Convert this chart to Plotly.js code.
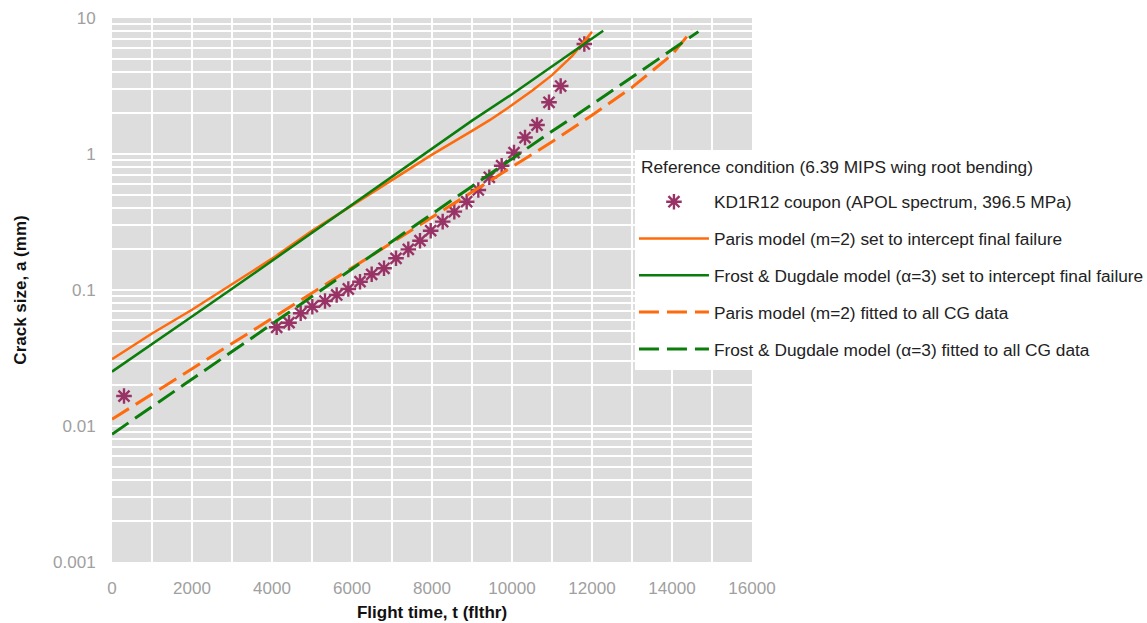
<!DOCTYPE html>
<html>
<head>
<meta charset="utf-8">
<script src="https://cdn.plot.ly/plotly-3.0.1.min.js"></script>
<style>html,body{margin:0;padding:0;background:#fff;}#chart{width:1147px;height:623px;}</style>
</head>
<body>
<div id="chart"></div>
<script>
// Coupon test data (flight hours, crack size mm)
const couponT = [300, 4117, 4425, 4717, 5008, 5325, 5617, 5908, 6200, 6492, 6800, 7100, 7408, 7700, 7967, 8267, 8558, 8867, 9158, 9433, 9742, 10050, 10325, 10625, 10925, 11217, 11808];
const couponA = [0.0166, 0.0532, 0.0575, 0.0674, 0.0754, 0.0830, 0.0919, 0.1017, 0.1151, 0.1304, 0.1444, 0.1710, 0.1991, 0.2305, 0.2730, 0.318, 0.377, 0.446, 0.544, 0.674, 0.820, 1.023, 1.322, 1.634, 2.40, 3.16, 6.44];

// Paris model (m=2) set to intercept final failure
const parisFinalT = [0, 1000, 2000, 3000, 4000, 5000, 6000, 7000, 8000, 9000, 9450, 10000, 10500, 11000, 11500, 12000];
const parisFinalA = [0.031, 0.0479, 0.0715, 0.111, 0.170, 0.272, 0.42, 0.645, 0.99, 1.48, 1.78, 2.29, 2.92, 3.8, 5.25, 7.9];

// Frost & Dugdale model (alpha=3) set to intercept final failure
const fdFinalT = [0, 1000, 2000, 3000, 4000, 5000, 6000, 7000, 8000, 9000, 10000, 11000, 12000, 12280];
const fdFinalA = [0.0251, 0.0398, 0.0638, 0.102, 0.164, 0.263, 0.425, 0.69, 1.10, 1.76, 2.75, 4.42, 7.08, 8.07];

// Paris model (m=2) fitted to all CG data
const parisFitT = [0, 1000, 2000, 3000, 4000, 5000, 6000, 7000, 8000, 9000, 10000, 11000, 12000, 13000, 14000, 14500];
const parisFitA = [0.0112, 0.0172, 0.0264, 0.0405, 0.0621, 0.0951, 0.146, 0.223, 0.342, 0.525, 0.804, 1.23, 1.93, 3.09, 5.37, 8.13];

// Frost & Dugdale model (alpha=3) fitted to all CG data
const fdFitT = [0, 1000, 2000, 3000, 4000, 5000, 6000, 7000, 8000, 9000, 10000, 11000, 12000, 13000, 14000, 14660];
const fdFitA = [0.0087, 0.01387, 0.0221, 0.0352, 0.056, 0.0891, 0.142, 0.226, 0.36, 0.573, 0.912, 1.47, 2.31, 3.68, 5.86, 7.94];

const yTickVals = [0.001, 0.01, 0.1, 1, 10];
const yTickText = ['0.001', '0.01', '0.1', '1', '10'];
const xTickVals = [0, 2000, 4000, 6000, 8000, 10000, 12000, 14000, 16000];
const xTickText = ['0', '2000', '4000', '6000', '8000', '10000', '12000', '14000', '16000'];

const legendTitle = 'Reference condition (6.39 MIPS wing root bending)';
const seriesNames = [
  'KD1R12 coupon (APOL spectrum, 396.5 MPa)',
  'Paris model (m=2) set to intercept final failure',
  'Frost &amp; Dugdale model (α=3) set to intercept final failure',
  'Paris model (m=2) fitted to all CG data',
  'Frost &amp; Dugdale model (α=3) fitted to all CG data'
];

const ORANGE = '#ff6a0c';
const GREEN = '#0a7d0a';
const PLUM = '#993366';

const minorY = [];
[0.001, 0.01, 0.1, 1].forEach(d => { for (let k = 2; k <= 9; k++) minorY.push(d * k); });

const traces = [
  {x: couponT, y: couponA, name: seriesNames[0], mode: 'markers', legendgroup: 'g0',
   marker: {symbol: 'asterisk-open', size: 13, color: PLUM, line: {color: PLUM, width: 2.4}}},
  {x: parisFinalT, y: parisFinalA, name: seriesNames[1], mode: 'lines', legendgroup: 'g1',
   line: {color: ORANGE, width: 2.5}},
  {x: fdFinalT, y: fdFinalA, name: seriesNames[2], mode: 'lines', legendgroup: 'g2',
   line: {color: GREEN, width: 2.5}},
  {x: parisFitT, y: parisFitA, name: seriesNames[3], mode: 'lines', legendgroup: 'g3',
   line: {color: ORANGE, width: 3, dash: '20px,8px'}},
  {x: fdFitT, y: fdFitA, name: seriesNames[4], mode: 'lines', legendgroup: 'g4',
   line: {color: GREEN, width: 3, dash: '20px,8px'}}
];

const FONT = 'Liberation Sans, Arial, sans-serif';

const layout = {
  width: 1147, height: 623,
  margin: {l: 112, r: 395, t: 18, b: 61, pad: 0, autoexpand: false},
  paper_bgcolor: '#ffffff',
  plot_bgcolor: '#dddddd',
  font: {family: FONT, size: 17, color: '#333'},
  showlegend: true,
  xaxis: {
    range: [0, 16000], tickmode: 'array', tickvals: xTickVals, ticktext: xTickText, automargin: false,
    showgrid: true, gridcolor: '#ffffff', gridwidth: 2, zeroline: false, showline: false,
    ticks: 'outside', ticklen: 11, tickcolor: 'rgba(0,0,0,0)',
    tickfont: {family: FONT, size: 17, color: '#a0a0a0'},
    minor: {dtick: 1000, showgrid: true, gridcolor: '#ffffff', gridwidth: 2, ticks: ''},
    title: {text: '<b>Flight time, t (flthr)</b>', font: {family: FONT, size: 17, color: '#111'}, standoff: 8}
  },
  yaxis: {
    type: 'log', range: [-3, 1], tickmode: 'array', tickvals: yTickVals, ticktext: yTickText, automargin: false,
    showgrid: true, gridcolor: '#ffffff', gridwidth: 2, zeroline: false, showline: false,
    ticks: 'outside', ticklen: 12, tickcolor: 'rgba(0,0,0,0)',
    tickfont: {family: FONT, size: 17, color: '#a0a0a0'},
    minor: {tickmode: 'array', tickvals: minorY, showgrid: true, gridcolor: '#ffffff', gridwidth: 2, ticks: ''},
    title: {text: '<b>Crack size, a (mm)</b>', font: {family: FONT, size: 17, color: '#111'}, standoff: 22}
  },
  shapes: [
    {type: 'rect', xref: 'paper', yref: 'paper', x0: 0.8172, x1: 1.62, y0: 0.3529, y1: 0.7574,
     fillcolor: '#ffffff', line: {width: 0}, layer: 'above'}
  ],
  annotations: [
    {text: legendTitle, xref: 'paper', yref: 'paper', x: 0.8234, y: 0.726, xanchor: 'left', yanchor: 'middle',
     showarrow: false, font: {family: FONT, size: 17.3, color: '#222'}}
  ],
  legend: {
    xref: 'container', yref: 'container',
    x: 0.5527, y: 0.7047, xanchor: 'left', yanchor: 'top',
    bgcolor: 'rgba(0,0,0,0)', borderwidth: 0,
    font: {family: FONT, size: 17.3, color: '#222'},
    traceorder: 'grouped', tracegroupgap: 11.3, itemwidth: 70
  }
};

Plotly.newPlot('chart', traces, layout, {displayModeBar: false, staticPlot: true});
</script>
</body>
</html>
